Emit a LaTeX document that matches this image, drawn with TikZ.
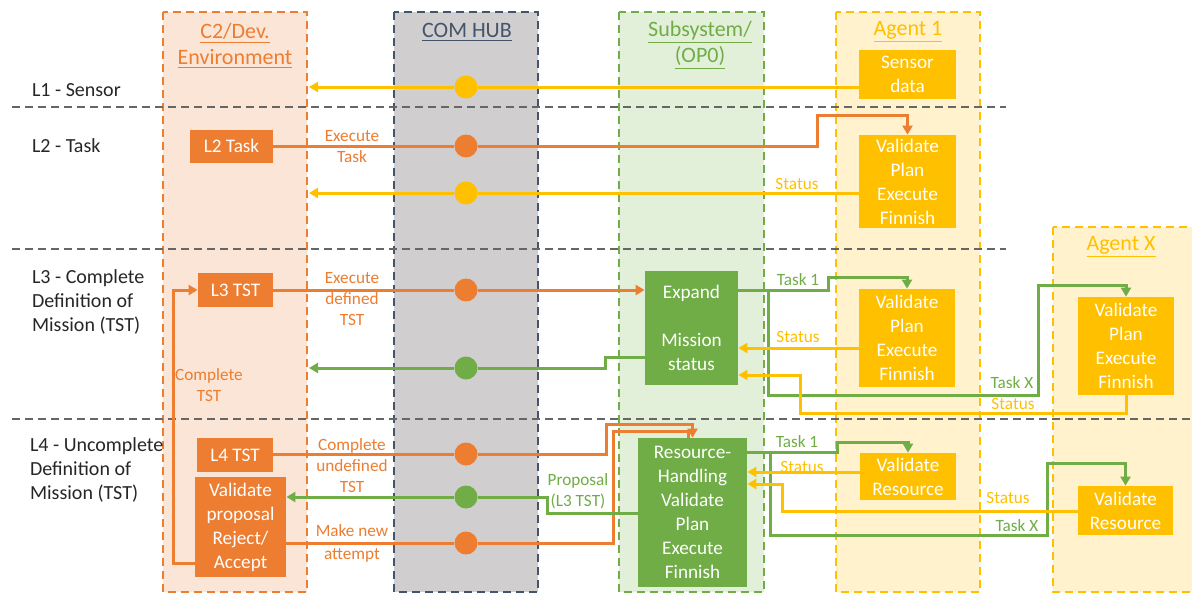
\documentclass[tikz,border=0pt]{standalone}
\usepackage{fontspec}
\setmainfont{Carlito}
\usetikzlibrary{arrows.meta,calc}
\definecolor{cor}{HTML}{ED7D31}
\definecolor{cye}{HTML}{FFC000}
\definecolor{cgr}{HTML}{70AD47}
\definecolor{cbl}{HTML}{44546A}
\definecolor{fc2}{HTML}{FBE5D6}
\definecolor{fhub}{HTML}{D0CECE}
\definecolor{fsub}{HTML}{E2F0D9}
\definecolor{fag}{HTML}{FFF2CC}
\definecolor{csep}{HTML}{666666}
\pgfdeclarelayer{back}\pgfdeclarelayer{mid}
\pgfsetlayers{back,mid,main}
\begin{document}
\begin{tikzpicture}[x=0.5pt,y=-0.5pt,
  colbox/.style={line width=1pt,dash pattern=on 4pt off 2.5pt},
  sepline/.style={draw=csep,line width=0.75pt,dash pattern=on 4pt off 2.5pt},
  coltitle/.style={font=\fontsize{11}{13}\selectfont,align=center},
  rowlbl/.style={font=\fontsize{10}{12}\selectfont,align=left,anchor=west,text=black!85},
  box/.style={inner sep=0pt,align=center,text=white,font=\fontsize{9.6}{12}\selectfont},
  obox/.style={box,fill=cor},
  ybox/.style={box,fill=cye},
  gbox/.style={box,fill=cgr},
  hubc/.style={circle,inner sep=0pt,minimum size=11.5pt},
  lbl/.style={font=\fontsize{8.6}{10.5}\selectfont,align=center},
  con/.style={line width=1.5pt},
  arr/.style={con,-{Triangle[length=4.5pt,width=5pt]}},
  oa/.style={arr,draw=cor},
  ya/.style={arr,draw=cye},
  ga/.style={arr,draw=cgr},
  ol/.style={con,draw=cor}]
\clip (0,0) rectangle (1192,594);

% columns
\begin{pgfonlayer}{back}
\fill[white] (0,0) rectangle (1192,594);
\draw[colbox,draw=cor,fill=fc2] (163,12) rectangle (307,592);
\draw[colbox,draw=cbl,fill=fhub] (394,12) rectangle (538,592);
\draw[colbox,draw=cgr,fill=fsub] (619,12) rectangle (764,592);
\draw[colbox,draw=cye,fill=fag] (836,12) rectangle (980,592);
\draw[colbox,draw=cye,fill=fag] (1053,227) rectangle (1210,592);
\draw[sepline] (12,107) -- (1006,107);
\draw[sepline] (12,249) -- (1006,249);
\draw[sepline] (12,419) -- (1192,419);
\end{pgfonlayer}

% column titles
\node[coltitle,text=cor] (tc2) at (235,46) {\underline{C2/Dev.}\\\underline{Environment}};
\node[coltitle,text=cbl] (thub) at (467,32) {\underline{COM HUB}};
\node[coltitle,text=cgr] (tsub) at (700,45) {\underline{Subsystem/}\\\underline{(OP0)}};
\node[coltitle,text=cye] (tag1) at (908,32) {\underline{Agent 1}};
\node[coltitle,text=cye] (tagx) at (1121,247) {\underline{Agent X}};

% row labels
\node[rowlbl] (r1) at (25,90) {L1 - Sensor};
\node[rowlbl] (r2) at (25,146) {L2 - Task};
\node[rowlbl] (r3) at (25,302) {L3 - Complete\\Definition of\\Mission (TST)};
\node[rowlbl] (r4) at (23,470) {L4 - Uncomplete\\Definition of\\Mission (TST)};

% boxes
\node[obox,minimum width=41.5pt,minimum height=16.5pt] (l2task) at (231.5,146) {L2 Task};
\node[obox,minimum width=37.5pt,minimum height=17pt] (l3tst) at (235.5,290) {L3 TST};
\node[obox,minimum width=38pt,minimum height=17pt] (l4tst) at (235,455) {L4 TST};
\node[obox,minimum width=45.5pt,minimum height=50pt] (valprop) at (240.5,527) {Validate\\proposal\\Reject/\\Accept};
\node[ybox,minimum width=48.5pt,minimum height=24.5pt] (sensor) at (907.5,74.5) {Sensor\\data};
\node[ybox,minimum width=48.5pt,minimum height=46.5pt] (a1l2) at (907.5,181.5) {Validate\\Plan\\Execute\\Finnish};
\node[gbox,minimum width=46.5pt,minimum height=57pt] (expand) at (691.5,328) {Expand\\[12pt]Mission\\status};
\node[ybox,minimum width=48pt,minimum height=49pt] (a1l3) at (907,338) {Validate\\Plan\\Execute\\Finnish};
\node[ybox,minimum width=48pt,minimum height=49pt] (axl3) at (1126,346) {Validate\\Plan\\Execute\\Finnish};
\node[gbox,minimum width=54.5pt,minimum height=74.5pt] (reshand) at (692.5,512.5) {Resource-\\Handling\\Validate\\Plan\\Execute\\Finnish};
\node[ybox,minimum width=48pt,minimum height=23.5pt] (a1l4) at (908,476.5) {Validate\\Resource};
\node[ybox,minimum width=47.5pt,minimum height=24.5pt] (axl4) at (1125.5,510.5) {Validate\\Resource};

% hub circles
\node[hubc,fill=cye] (h1) at (466,87) {};
\node[hubc,fill=cor] (h2) at (466,146) {};
\node[hubc,fill=cye] (h3) at (466,193) {};
\node[hubc,fill=cor] (h4) at (466,290) {};
\node[hubc,fill=cgr] (h5) at (466,368) {};
\node[hubc,fill=cor] (h6) at (466,454) {};
\node[hubc,fill=cgr] (h7) at (466,497) {};
\node[hubc,fill=cor] (h8) at (466,543) {};

% helper coordinates
\coordinate (c2e1) at (309,87);
\coordinate (c2e3) at (309,193);
\coordinate (c2e5) at (309,368);
\coordinate (t2a) at (817,115);
\coordinate (e1) at (605,357);
\coordinate (fb) at (173,563);
\coordinate (k1) at (828,277);
\coordinate (kx1) at (768,290);
\coordinate (kx2) at (1038,395);
\coordinate (kx3) at (1038,285);
\coordinate (s3a) at (800,348);
\coordinate (sx1) at (800,413);
\coordinate (sx2) at (800,375);
\coordinate (q1) at (837,442);
\coordinate (qx1) at (770,453);
\coordinate (qx2) at (1047,535);
\coordinate (qx3) at (1047,463);
\coordinate (u1) at (800,472);
\coordinate (v1) at (782,511);
\coordinate (v2) at (782,484);
\coordinate (rr1) at (606,424);
\coordinate (rr2) at (613,431);
\coordinate (rr3) at (688,431);
\coordinate (p1) at (547,513);

% connectors
\begin{pgfonlayer}{mid}
% L1
\draw[ya] (sensor.west |- h1) -- (h1) -- (c2e1);
% L2
\draw[oa] (l2task.east) -- (h2) -| (t2a) -| (a1l2.north);
\draw[ya] (a1l2.west |- h3) -- (h3) -- (c2e3);
% L3
\draw[oa] (l3tst.east) -- (h4) -- (expand.west |- h4);
\draw[ga] (expand.west |- e1) -- (e1) |- (h5) -- (c2e5);
\draw[oa] (valprop.west |- fb) -- (fb) |- (l3tst.west);
\draw[ga] (expand.east |- h4) -| (k1) -| (a1l3.north);
\draw[ga] (kx1) |- (kx2) -- (kx3) -| (axl3.north);
\draw[ya] (a1l3.west |- s3a) -- (expand.east |- s3a);
\draw[ya] (axl3.south) |- (sx1) -- (sx2) -- (expand.east |- sx2);
% L4
\draw[oa] (l4tst.east |- h6) -- (h6) -| (rr1) -| (reshand.north);
\draw[ol] (valprop.east |- h8) -- (h8) -| (rr2) -- (rr3) -- (rr3 |- reshand.north);
\draw[ga] (reshand.west |- p1) -- (p1) |- (h7) -- (valprop.east |- h7);
\draw[ga] (reshand.east |- a1l4.north) -| (q1) -| (a1l4.north);
\draw[ga] (qx1) |- (qx2) -- (qx3) -| (axl4.north);
\draw[ya] (a1l4.west |- u1) -- (reshand.east |- u1);
\draw[ya] (axl4.west |- v1) -- (v1) -- (v2) -- (reshand.east |- v2);
\end{pgfonlayer}

% connector labels
\node[lbl,text=cor] (lb1) at (352,146.5) {Execute\\Task};
\node[lbl,text=cye] (lb2) at (797,184) {Status};
\node[lbl,text=cor] (lb3) at (352,299) {Execute\\defined\\TST};
\node[lbl,text=cor] (lb4) at (209,385) {Complete\\TST};
\node[lbl,text=cgr] (lb5) at (798,280) {Task 1};
\node[lbl,text=cye] (lb6) at (798,337) {Status};
\node[lbl,text=cgr] (lb7) at (1012,383) {Task X};
\node[lbl,text=cye] (lb8) at (1013,404) {Status};
\node[lbl,text=cor] (lb9) at (352,466) {Complete\\undefined\\TST};
\node[lbl,text=cor,anchor=base] (lb10a) at (352,536) {Make new};
\node[lbl,text=cor,anchor=base] (lb10b) at (352,559) {attempt};
\node[lbl,text=cgr] (lb11) at (578,491) {Proposal\\(L3 TST)};
\node[lbl,text=cgr] (lb12) at (797,442) {Task 1};
\node[lbl,text=cye] (lb13) at (802,467) {Status};
\node[lbl,text=cye] (lb14) at (1008,498) {Status};
\node[lbl,text=cgr] (lb15) at (1017,526) {Task X};
\end{tikzpicture}
\end{document}
